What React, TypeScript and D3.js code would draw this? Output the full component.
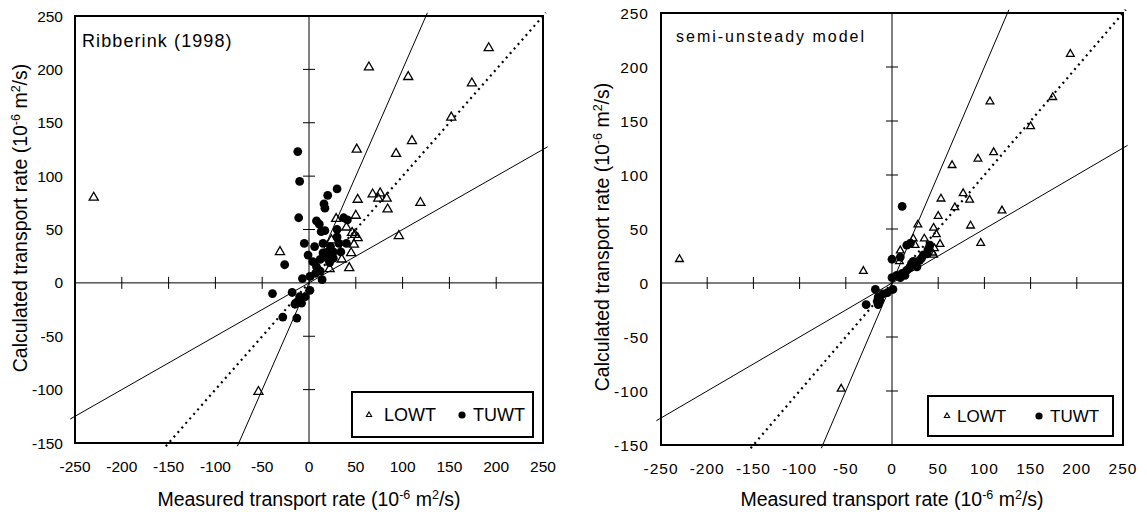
import React from 'react';
import * as d3 from 'd3';

type Pt = [number, number];

const xTickValues = [-250, -200, -150, -100, -50, 0, 50, 100, 150, 200, 250];
const yTickValues = [-150, -100, -50, 0, 50, 100, 150, 200, 250];
const axisTickValuesX = [-200, -150, -100, -50, 50, 100, 150, 200];
const axisTickValuesY = [-100, -50, 50, 100, 150, 200];

const leftLOWT: Pt[] = [
  [-230, 80], [-54, -102], [-31, 29], [64, 202], [106, 193], [192, 220], [174, 187],
  [152, 155], [110, 133], [51, 125], [93, 121], [119, 75], [96, 44], [52, 78],
  [68, 83], [76, 84], [74, 79], [83, 79], [84, 69], [29, 60], [50, 63], [45, 28],
  [48, 36], [46, 47], [49, 45], [40, 52], [52, 42], [22, 13], [24, 40], [43, 14], [35, 22],
];

const leftTUWT: Pt[] = [
  [-12, 123], [-10, 95], [-11, 61], [30, 88], [20, 82], [16, 74], [17, 70], [8, 58],
  [11, 55], [17, 49], [13, 48], [37, 61], [41, 59], [30, 50], [-5, 37], [6, 34],
  [15, 37], [23, 34], [30, 43], [32, 37], [40, 37], [34, 29], [26, 23], [-1, 26],
  [-26, 17], [4, 20], [12, 22], [17, 25], [22, 19], [8, 15], [12, 11], [7, 9],
  [-7, 4], [1, 6], [14, 3], [10, 12], [20, 29], [15, 28], [26, 29], [20, 23],
  [-39, -10], [-18, -9], [-10, -13], [-13, -18], [-8, -19], [-15, -20], [1, -7],
  [-28, -32], [-13, -33], [-4, -13],
];

const rightLOWT: Pt[] = [
  [-230, 22], [-31, 11], [-55, -98], [193, 212], [174, 172], [106, 168], [150, 145],
  [110, 121], [93, 115], [65, 109], [77, 83], [53, 78], [68, 70], [84, 77], [50, 62],
  [85, 53], [96, 37], [28, 54], [45, 51], [48, 45], [52, 36], [35, 41], [25, 35],
  [9, 30], [46, 32], [45, 26], [8, 20], [23, 41], [119, 67], [44, 28],
];

const rightTUWT: Pt[] = [
  [11, 71], [16, 35], [20, 37], [0, 22], [9, 24], [41, 35], [39, 31], [34, 26],
  [30, 21], [27, 15], [21, 18], [16, 12], [11, 9], [5, 7], [0, 5], [14, 7], [9, 5],
  [19, 14], [23, 20], [32, 23], [38, 27], [-18, -6], [-10, -10], [1, -6], [-15, -13],
  [-16, -17], [-13, -16], [-28, -20], [-15, -20], [-5, -9],
];

const FONT = 'Arial, "Liberation Sans", Helvetica, sans-serif';

interface PanelProps {
  x0: number; x1: number; y0: number; y1: number;
  lowt: Pt[]; tuwt: Pt[];
  title: string; titleX: number; titleY: number; titleSize: number; titleSpacing: number;
  tickSpacing: number;
  yTitleX: number; yTitleY: number;
  triSize: number;
  legend: { x: number; y: number; w: number; h: number; triX: number; lowX: number; cirX: number; tuX: number; base: number; fs: number };
}

function Panel(p: PanelProps) {
  const x = d3.scaleLinear().domain([-250, 250]).range([p.x0, p.x1]);
  const y = d3.scaleLinear().domain([-150, 250]).range([p.y1, p.y0]);
  const tri = d3.symbol().type(d3.symbolTriangle).size(p.triSize)() as string;
  const legTri = d3.symbol().type(d3.symbolTriangle).size(12)() as string;
  const line = d3.line<Pt>().x(d => x(d[0])).y(d => y(d[1]));
  const oneToOne: Pt[] = [[-153, -153], [253, 253]];
  const twoTimes: Pt[] = [[-76.5, -153], [126.5, 253]];
  const half: Pt[] = [[-255, -127.5], [255, 127.5]];
  const cx = (p.x0 + p.x1) / 2;
  const L = p.legend;
  return (
    <g fontFamily={FONT}>
      <line x1={p.x0} x2={p.x1} y1={y(0)} y2={y(0)} stroke="#000" strokeWidth={1} />
      <line x1={x(0)} x2={x(0)} y1={p.y0} y2={p.y1} stroke="#000" strokeWidth={1} />
      {axisTickValuesX.map(t => (
        <line key={'tx' + t} x1={x(t)} x2={x(t)} y1={y(0) - 6} y2={y(0) + 6} stroke="#000" strokeWidth={1} />
      ))}
      {axisTickValuesY.map(t => (
        <line key={'ty' + t} x1={x(0) - 6} x2={x(0) + 6} y1={y(t)} y2={y(t)} stroke="#000" strokeWidth={1} />
      ))}
      <path d={line(twoTimes) as string} stroke="#000" strokeWidth={1} fill="none" />
      <path d={line(half) as string} stroke="#000" strokeWidth={1} fill="none" />
      <path d={line(oneToOne) as string} stroke="#000" strokeWidth={2.2} strokeDasharray="2 4" fill="none" />
      {p.tuwt.map((d, i) => (
        <circle key={'c' + i} cx={x(d[0])} cy={y(d[1])} r={4.4} fill="#000" />
      ))}
      {p.lowt.map((d, i) => (
        <path key={'t' + i} d={tri} transform={`translate(${x(d[0])},${y(d[1])})`} fill="none" stroke="#000" strokeWidth={1.3} />
      ))}
      <rect x={p.x0} y={p.y0} width={p.x1 - p.x0} height={p.y1 - p.y0} fill="none" stroke="#000" strokeWidth={2} />
      {xTickValues.map(t => (
        <text key={'lx' + t} x={x(t)} y={p.y1 + 29} fontSize={15.5} textAnchor="middle" letterSpacing={p.tickSpacing}>{t}</text>
      ))}
      {yTickValues.map(t => (
        <text key={'ly' + t} x={p.x0 - 12} y={y(t)} dy="0.36em" fontSize={15.5} textAnchor="end" letterSpacing={p.tickSpacing}>{t}</text>
      ))}
      <text x={p.titleX} y={p.titleY} fontSize={p.titleSize} letterSpacing={p.titleSpacing}>{p.title}</text>
      <text x={cx} y={506} fontSize={19.5} textAnchor="middle">
        Measured transport rate (10<tspan dy={-7} fontSize={12.5}>-6</tspan><tspan dy={7}> m</tspan><tspan dy={-7} fontSize={12.5}>2</tspan><tspan dy={7}>/s)</tspan>
      </text>
      <text transform={`translate(${p.yTitleX},${p.yTitleY}) rotate(-90)`} fontSize={19.5} textAnchor="middle" dy="0.35em">
        Calculated transport rate (10<tspan dy={-7} fontSize={12.5}>-6</tspan><tspan dy={7}> m</tspan><tspan dy={-7} fontSize={12.5}>2</tspan><tspan dy={7}>/s)</tspan>
      </text>
      <rect x={L.x} y={L.y} width={L.w} height={L.h} fill="#fff" stroke="#000" strokeWidth={2} />
      <path d={legTri} transform={`translate(${L.triX},${L.base - 6})`} fill="none" stroke="#000" strokeWidth={1.1} />
      <text x={L.lowX} y={L.base} fontSize={L.fs}>LOWT</text>
      <circle cx={L.cirX} cy={L.base - 6} r={3.6} fill="#000" />
      <text x={L.tuX} y={L.base} fontSize={L.fs}>TUWT</text>
    </g>
  );
}

export default function App() {
  return (
    <svg width={1147} height={512} style={{ position: 'absolute', left: 0, top: 0, background: '#fff' }}>
      <rect x={0} y={0} width={1147} height={512} fill="#fff" />
      <Panel
        x0={75} x1={543} y0={16} y1={443}
        lowt={leftLOWT} tuwt={leftTUWT}
        title="Ribberink (1998)" titleX={82} titleY={47} titleSize={18} titleSpacing={1.1}
        tickSpacing={0}
        yTitleX={20} yTitleY={218}
        triSize={36}
        legend={{ x: 352, y: 392, w: 181, h: 45, triX: 369, lowX: 384, cirX: 462, tuX: 473, base: 421, fs: 18 }}
      />
      <Panel
        x0={661} x1={1123} y0={13} y1={445}
        lowt={rightLOWT} tuwt={rightTUWT}
        title="semi-unsteady model" titleX={676} titleY={42} titleSize={16} titleSpacing={2}
        tickSpacing={1}
        yTitleX={602} yTitleY={237}
        triSize={26}
        legend={{ x: 928, y: 396, w: 185, h: 40, triX: 947, lowX: 957, cirX: 1039, tuX: 1050, base: 422, fs: 17 }}
      />
    </svg>
  );
}
